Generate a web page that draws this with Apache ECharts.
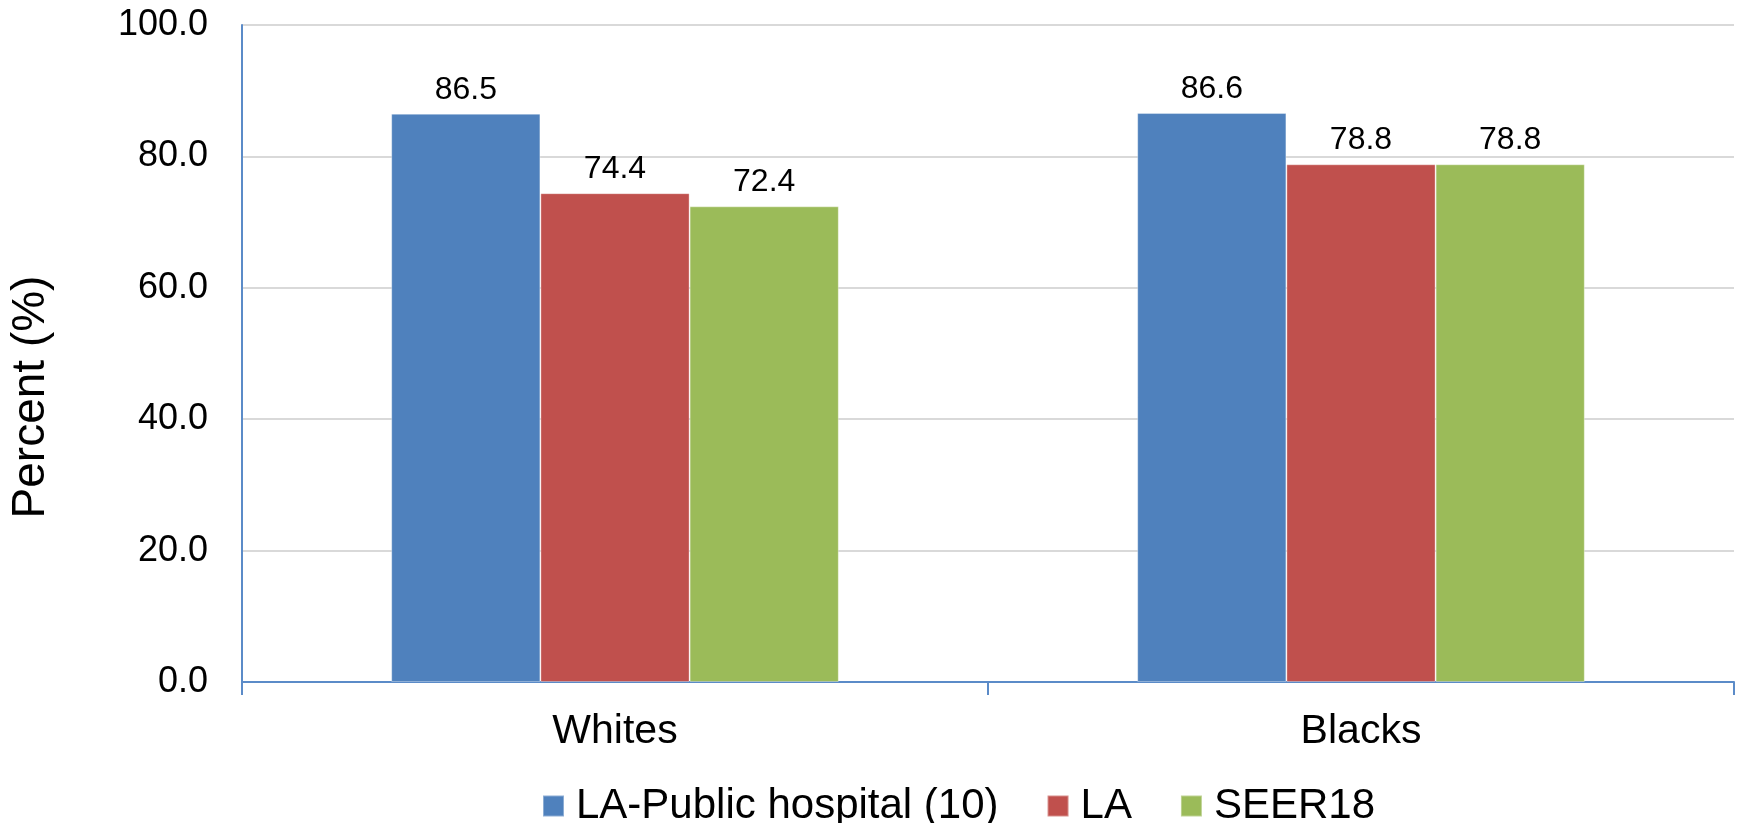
<!DOCTYPE html>
<html>
<head>
<meta charset="utf-8">
<script src="https://cdn.jsdelivr.net/npm/echarts@6/dist/echarts.min.js"></script>
<style>
html,body{margin:0;padding:0;background:#fff;}
#main{width:1742px;height:823px;}
</style>
</head>
<body>
<div id="main"></div>
<script>
const categories = ['Whites', 'Blacks'];
const seriesNames = ['LA-Public hospital (10)', 'LA', 'SEER18'];
const publicHospital = [86.5, 86.6];
const la = [74.4, 78.8];
const seer18 = [72.4, 78.8];
const yTicks = [0, 20, 40, 60, 80, 100];

const colors = ['#4F81BD', '#C0504D', '#9BBB59'];
const FONT = '"Liberation Sans", Arial, sans-serif';

const chart = echarts.init(document.getElementById('main'));
const seriesData = [publicHospital, la, seer18];

const option = {
  animation: false,
  color: colors,
  textStyle: { fontFamily: FONT, color: '#000' },
  grid: { left: 242, top: 25, right: 8, bottom: 141, containLabel: false },
  legend: {
    data: seriesNames,
    left: 537,
    top: 780,
    itemWidth: 21,
    itemHeight: 21,
    itemGap: 48,
    icon: 'rect',
    textStyle: { fontFamily: FONT, fontSize: 42, color: '#000', lineHeight: 42, padding: [0, 0, 0, 7] }
  },
  xAxis: {
    type: 'category',
    data: categories,
    boundaryGap: true,
    axisLine: { show: true, lineStyle: { color: '#5B8BC8', width: 2 } },
    axisTick: { show: true, length: 13, lineStyle: { color: '#5B8BC8', width: 2 } },
    axisLabel: { fontFamily: FONT, fontSize: 41, color: '#000', margin: 29 },
    splitLine: { show: false }
  },
  yAxis: {
    type: 'value',
    min: yTicks[0],
    max: yTicks[yTicks.length - 1],
    interval: yTicks[1] - yTicks[0],
    axisLine: { show: true, lineStyle: { color: '#5B8BC8', width: 2 } },
    axisTick: { show: false },
    axisLabel: {
      fontFamily: FONT, fontSize: 36, color: '#000', margin: 34,
      formatter: v => v.toFixed(1)
    },
    splitLine: { show: true, lineStyle: { color: '#D9D9D9', width: 2 } }
  },
  graphic: [{
    type: 'text',
    x: 31,
    y: 397,
    rotation: Math.PI / 2,
    style: {
      text: 'Percent (%)',
      fontFamily: FONT,
      fontSize: 46,
      fill: '#000',
      align: 'center',
      verticalAlign: 'middle'
    }
  }],
  series: seriesNames.map((name, i) => ({
    name: name,
    type: 'bar',
    data: seriesData[i],
    barGap: '0%',
    barCategoryGap: '40%',
    itemStyle: { color: colors[i], borderColor: 'rgba(255,255,255,0.35)', borderWidth: 1 },
    label: {
      show: true,
      position: 'top',
      distance: 8,
      fontFamily: FONT,
      fontSize: 32,
      color: '#000',
      formatter: p => p.value.toFixed(1)
    }
  }))
};

chart.setOption(option);
</script>
</body>
</html>
